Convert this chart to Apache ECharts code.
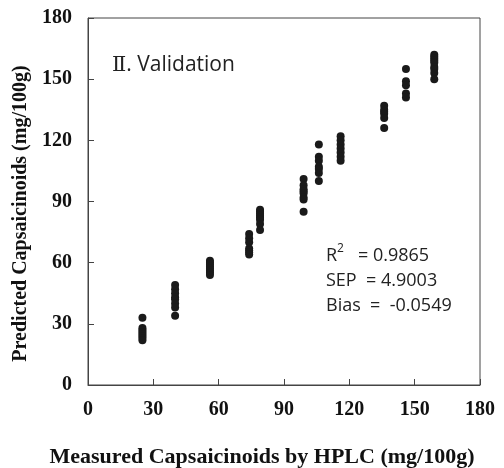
<!DOCTYPE html>
<html><head><meta charset="utf-8">
<script src="https://cdn.jsdelivr.net/npm/echarts@6/dist/echarts.min.js"></script>
<style>html,body{margin:0;padding:0;background:#fff}#c{width:504px;height:468px}</style>
</head><body><div id="c"></div>
<script>
const xTicks = [0, 30, 60, 90, 120, 150, 180];
const measured = [25, 40, 56, 74, 79, 99, 106, 116, 136, 146, 159];
const predicted = [
  [33, 28, 27, 26, 25, 24, 23, 22],
  [49, 47, 45, 43, 42, 40, 38, 34],
  [61, 60, 59, 58, 57, 56, 55, 54],
  [74, 72, 70, 67, 66, 65, 64],
  [86, 85, 84, 83, 82, 81, 79, 76],
  [101, 98, 96, 95, 94, 92, 91, 85],
  [118, 112, 110, 107, 106, 104, 100],
  [122, 120, 118, 116, 114, 112, 110],
  [137, 135, 134, 133, 131, 126],
  [155, 149, 147, 143, 141],
  [162, 161, 160, 159, 158, 156, 155, 153, 150]
];
const titleText = '{r|Ⅱ}. Validation';
const statsLines = ['R{sup|2}   = 0.9865', 'SEP  = 4.9003', 'Bias  =  -0.0549'];

const pts = [];
measured.forEach((m, i) => predicted[i].forEach(p => pts.push([m, p])));

const tickFont = {fontFamily: 'Liberation Serif', fontWeight: 'bold', fontSize: 20, color: '#111'};
const chart = echarts.init(document.getElementById('c'));
chart.setOption({
  animation: false,
  grid: {left: 88, top: 18, right: 24, bottom: 83, show: true, borderColor: '#444', borderWidth: 1,
         containLabel: false, outerBoundsMode: 'none'},
  xAxis: {
    type: 'value', min: 0, max: 180, interval: 30,
    name: 'Measured Capsaicinoids by HPLC (mg/100g)', nameLocation: 'middle', nameGap: 61,
    nameTextStyle: {fontFamily: 'Liberation Serif', fontWeight: 'bold', fontSize: 22, color: '#111', padding: [0, 44, 0, 0]},
    axisLine: {lineStyle: {color: '#444'}},
    axisTick: {inside: true, length: 6, lineStyle: {color: '#444'}},
    axisLabel: Object.assign({margin: 15}, tickFont),
    splitLine: {show: false}
  },
  yAxis: {
    type: 'value', min: 0, max: 180, interval: 30,
    name: 'Predicted Capsaicinoids (mg/100g)', nameLocation: 'middle', nameGap: 55,
    nameTextStyle: {fontFamily: 'Liberation Serif', fontWeight: 'bold', fontSize: 20, color: '#111', padding: [0, 24, 0, 0]},
    axisLine: {lineStyle: {color: '#444'}},
    axisTick: {inside: true, length: 6, lineStyle: {color: '#444'}},
    axisLabel: Object.assign({margin: 16}, tickFont),
    splitLine: {show: false}
  },
  graphic: [
    {type: 'text', left: 112, top: 55, style: {
      text: titleText, font: '21px "Open Sans"', fill: '#222',
      rich: {r: {font: '21px "DejaVu Serif"', fill: '#222'}}
    }},
    {type: 'text', left: 326, top: 243, style: {
      text: statsLines.join('\n'), font: '18px "Open Sans"', fill: '#222', lineHeight: 25,
      rich: {sup: {font: '12px "Open Sans"', verticalAlign: 'top', padding: [0, 0, 9, 0], fill: '#222'}}
    }}
  ],
  series: [{
    type: 'scatter', data: pts, symbolSize: 8,
    itemStyle: {color: '#1a1a1a', opacity: 1}
  }]
});
</script></body></html>
